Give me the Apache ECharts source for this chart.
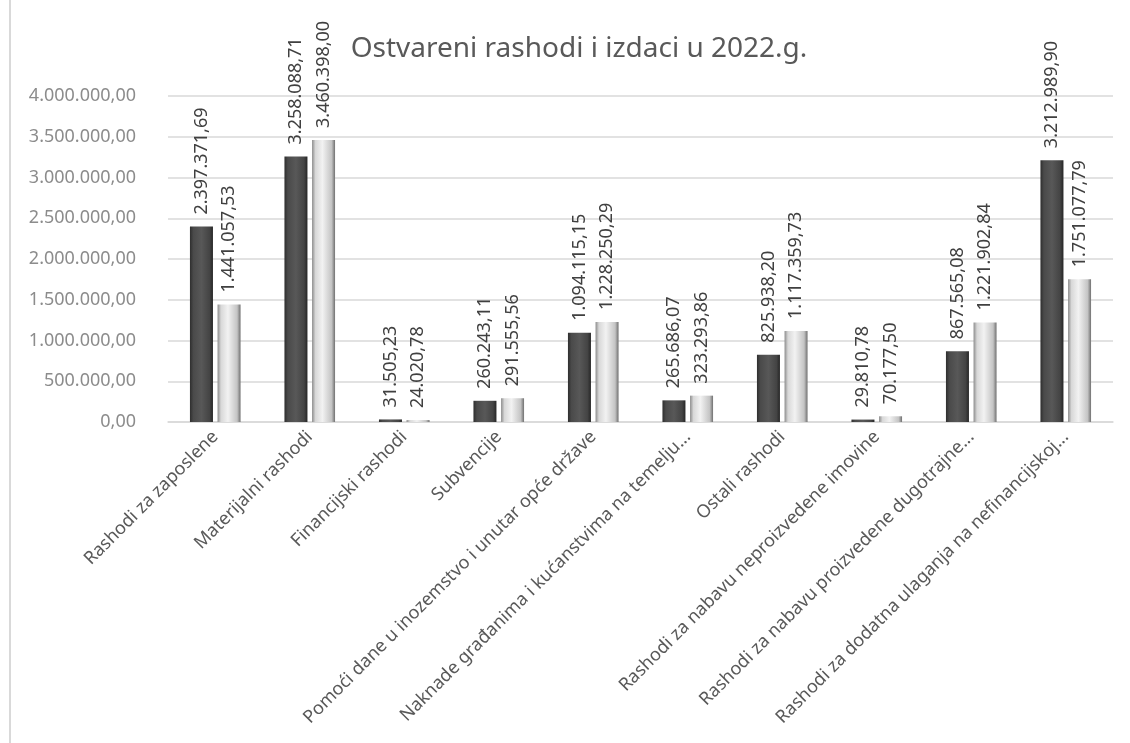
<!DOCTYPE html>
<html>
<head>
<meta charset="utf-8">
<script src="https://cdn.jsdelivr.net/npm/echarts@6/dist/echarts.min.js"></script>
<style>html,body{margin:0;padding:0;background:#fff;}#c{width:1130px;height:743px;}</style>
</head>
<body>
<div id="c"></div>
<script>
const categories = [
  "Rashodi za zaposlene",
  "Materijalni rashodi",
  "Financijski rashodi",
  "Subvencije",
  "Pomoći dane u inozemstvo i unutar opće države",
  "Naknade građanima i kućanstvima na temelju...",
  "Ostali rashodi",
  "Rashodi za nabavu neproizvedene imovine",
  "Rashodi za nabavu proizvedene dugotrajne...",
  "Rashodi za dodatna ulaganja na nefinancijskoj..."
];
const series1 = [2397371.69, 3258088.71, 31505.23, 260243.11, 1094115.15, 265686.07, 825938.20, 29810.78, 867565.08, 3212989.90];
const series2 = [1441057.53, 3460398.00, 24020.78, 291555.56, 1228250.29, 323293.86, 1117359.73, 70177.50, 1221902.84, 1751077.79];
const yTicks = { min: 0, max: 4000000, interval: 500000 };

function fmt(v) {
  const parts = Number(v).toFixed(2).split('.');
  const intPart = parts[0].replace(/\B(?=(\d{3})+(?!\d))/g, '.');
  return intPart + ',' + parts[1];
}

const font = "'Noto Sans', sans-serif";
const darkGrad = { type: 'linear', x: 0, y: 0, x2: 1, y2: 0, colorStops: [
  { offset: 0, color: '#2e2e2e' }, { offset: 0.15, color: '#4a4a4a' },
  { offset: 0.5, color: '#585858' }, { offset: 0.85, color: '#444444' }, { offset: 1, color: '#262626' }] };
const lightGrad = { type: 'linear', x: 0, y: 0, x2: 1, y2: 0, colorStops: [
  { offset: 0, color: '#8c8c8c' }, { offset: 0.15, color: '#d8d8d8' },
  { offset: 0.45, color: '#f2f2f2' }, { offset: 0.85, color: '#c4c4c4' }, { offset: 1, color: '#707070' }] };

const labelCfg = {
  show: true, position: 'top', rotate: 90, align: 'left', verticalAlign: 'middle',
  distance: 12, color: '#404040', fontSize: 18, fontFamily: font,
  formatter: p => fmt(p.value)
};

const chart = echarts.init(document.getElementById('c'), null, { renderer: 'canvas' });
chart.setOption({
  backgroundColor: '#ffffff',
  animation: false,
  title: {
    text: 'Ostvareni rashodi i izdaci u 2022.g.',
    left: 574, textAlign: 'center', top: 30,
    textStyle: { color: '#595959', fontSize: 28, fontWeight: 'normal', fontFamily: font }
  },
  grid: { left: 168, right: 17, top: 96, bottom: 321, containLabel: false },
  xAxis: {
    type: 'category', data: categories,
    axisLine: { show: true, lineStyle: { color: '#d9d9d9', width: 1.5 } },
    axisTick: { show: false },
    axisLabel: { rotate: 45, interval: 0, margin: 12, color: '#595959', fontSize: 18, fontFamily: font }
  },
  yAxis: {
    type: 'value', min: yTicks.min, max: yTicks.max, interval: yTicks.interval,
    axisLine: { show: false }, axisTick: { show: false },
    splitLine: { lineStyle: { color: '#d9d9d9', width: 1.5 } },
    axisLabel: { margin: 32, color: '#8c8c8c', fontSize: 18, fontFamily: font, formatter: v => fmt(v) }
  },
  series: [
    { name: 'Serija 1', type: 'bar', data: series1, barWidth: 23, barGap: '20%',
      itemStyle: { color: darkGrad }, label: labelCfg },
    { name: 'Serija 2', type: 'bar', data: series2, barWidth: 23, barGap: '20%',
      itemStyle: { color: lightGrad }, label: labelCfg }
  ],
  graphic: [
    { type: 'line', shape: { x1: 10, y1: 0, x2: 10, y2: 743 }, style: { stroke: '#d9d9d9', lineWidth: 2 } }
  ]
});
</script>
</body>
</html>
